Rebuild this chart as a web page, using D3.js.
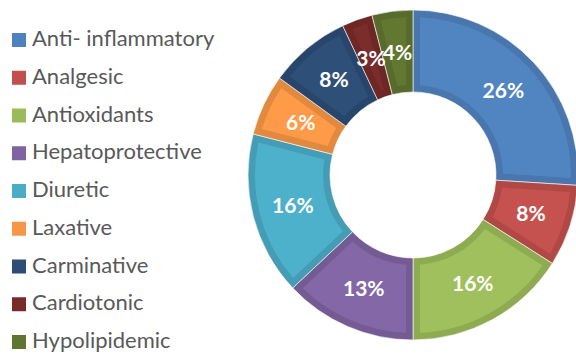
<!DOCTYPE html>
<html>
<head>
<meta charset="utf-8">
<script src="https://cdn.jsdelivr.net/npm/d3@7"></script>
<style>
  html, body { margin: 0; padding: 0; background: #fff; }
  svg { display: block; }
</style>
</head>
<body>
<svg id="chart" width="576" height="354"></svg>
<script>
// slices, clockwise from 12 o'clock
const categories = ['Anti- inflammatory', 'Analgesic', 'Antioxidants', 'Hepatoprotective',
    'Diuretic', 'Laxative', 'Carminative', 'Cardiotonic', 'Hypolipidemic'];
const shares = [26, 8, 16, 13, 16, 6, 8, 3, 4];
const colors = ['#4f81bd', '#c0504d', '#9bbb59', '#8064a2', '#4bacc6', '#f79646',
    '#2c4d75', '#772c2a', '#5f7530'];

const width = 576, height = 354;
const cx = 413, cy = 175;
const rOuter = 165, rInner = 83, border = 7;

const svg = d3.select('#chart');

const pie = d3.pie().sort(null).value((d) => d.value);
const arcs = pie(categories.map((name, i) => ({ name, value: shares[i], color: colors[i] })));

const outerArc = d3.arc().innerRadius(rInner).outerRadius(rOuter);
const insetArc = d3.arc()
    .innerRadius(rInner + border)
    .outerRadius(rOuter - border)
    .padRadius(rOuter)
    .padAngle((2 * border) / rOuter);

const g = svg.append('g').attr('transform', `translate(${cx},${cy})`);

// darker rim, then the lighter face inset into it
g.selectAll('path.rim')
    .data(arcs)
    .join('path')
    .attr('class', 'rim')
    .attr('d', outerArc)
    .attr('fill', (d) => d3.color(d.data.color).darker(0.25))
    .attr('stroke', '#fff')
    .attr('stroke-width', 0.6);

g.selectAll('path.face')
    .data(arcs)
    .join('path')
    .attr('class', 'face')
    .attr('d', insetArc)
    .attr('fill', (d) => d3.color(d.data.color).brighter(0.08));

g.selectAll('text.pct')
    .data(arcs)
    .join('text')
    .attr('class', 'pct')
    .attr('transform', (d) => `translate(${outerArc.centroid(d)})`)
    .attr('text-anchor', 'middle')
    .attr('dy', '0.36em')
    .attr('fill', '#fff')
    .attr('font-family', 'Lato, "Open Sans", sans-serif')
    .attr('font-weight', 700)
    .attr('font-size', 21)
    .text((d) => `${d.data.value}%`);

// legend
const legendY = d3.scalePoint().domain(categories).range([40, 342]);

const item = svg.append('g')
    .selectAll('g')
    .data(categories)
    .join('g')
    .attr('transform', (d) => `translate(12,${legendY(d)})`);

item.append('rect')
    .attr('y', -7)
    .attr('width', 14)
    .attr('height', 14)
    .attr('fill', (d, i) => colors[i]);

item.append('text')
    .attr('x', 20)
    .attr('dy', 6)
    .attr('fill', '#595959')
    .attr('font-family', 'Lato, "Open Sans", sans-serif')
    .attr('font-size', 22)
    .text((d) => d);
</script>
</body>
</html>
